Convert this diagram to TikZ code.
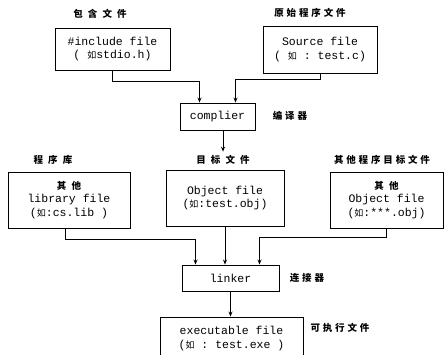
\documentclass[tikz,border=0pt]{standalone}
\usepackage{fontspec}
\setmonofont{Liberation Mono}
\newfontfamily\cjk{Noto Sans CJK SC}
\newfontfamily\cjklab[LetterSpace=30]{Noto Sans CJK SC}
\usetikzlibrary{arrows.meta}

% small "ru" inside the file boxes
\newcommand\ru{{\cjk\fontsize{9}{9}\selectfont 如}}
\newcommand\labfont{\cjklab\bfseries\fontsize{9.5}{11}\selectfont}

\begin{document}
\begin{tikzpicture}[x=1pt,y=-1pt,line width=0.9pt,
        >={Stealth[length=5pt,width=4pt]},
        box/.style={draw, align=center, inner sep=0pt,
                        font=\ttfamily\fontsize{11.5}{13.5}\selectfont},
        lab/.style={font=\labfont}]
    \useasboundingbox (0,0) rectangle (444,355);

    % compile stage
    \node[box, minimum width=115pt, minimum height=42pt] (inc) at (112.5,49)
        {\#include file\\( \ru{}stdio.h)};
    \node[box, minimum width=114pt, minimum height=47pt] (src) at (320,49.5)
        {Source file\\( \ru{} : test.c)};
    \node[box, minimum width=75pt, minimum height=27pt] (comp) at (217.5,116.5)
        {complier};

    % link stage
    \node[box, minimum width=122pt, minimum height=56pt] (lib) at (69,200)
        {{\labfont 其 他}\\library file\\(\ru{}:cs.lib )};
    \node[box, minimum width=118pt, minimum height=56pt] (obj) at (225,198)
        {Object file\\(\ru{}:test.obj)};
    \node[box, minimum width=113pt, minimum height=56pt] (oth) at (386.5,200)
        {{\labfont 其 他}\\Object file\\(\ru{}:***.obj)};
    \node[box, minimum width=97pt, minimum height=26pt] (lnk) at (230.5,278)
        {linker};
    \node[box, minimum width=143pt, minimum height=43pt] (exe) at (231.5,338.5)
        {executable file\\(\ru{} : test.exe )};

    % captions
    \node[lab] (inclab) at (100,14) {包 含 文 件};
    \node[lab] (srclab) at (310,13) {原始程序文件};
    \node[lab] (complab) at (290,116) {编译器};
    \node[lab] (liblab) at (53,160) {程 序 库};
    \node[lab] (objlab) at (223,160) {目 标 文 件};
    \node[lab] (othlab) at (382,160) {其他程序目标文件};
    \node[lab] (lnklab) at (307,278) {连接器};
    \node[lab] (exelab) at (340,328) {可执行文件};

    % connectors
    \draw[->] (inc.south) -- ++(0,11) -| ([xshift=-18pt]comp.north);
    \draw[->] (src.south) -- ++(0,6) -| ([xshift=18pt]comp.north);
    \draw[->] (comp.south -| objlab.north) -- (objlab.north);
    \draw[->] ([xshift=-4pt]lib.south) -- ++(0,11) -| ([xshift=-35pt]lnk.north);
    \draw[->] (obj.south) -- (obj.south |- lnk.north);
    \draw[->] (oth.south) -- ++(0,9) -| ([xshift=29pt]lnk.north);
    \draw[->] (lnk.south) -- (lnk.south |- exe.north);
\end{tikzpicture}
\end{document}
